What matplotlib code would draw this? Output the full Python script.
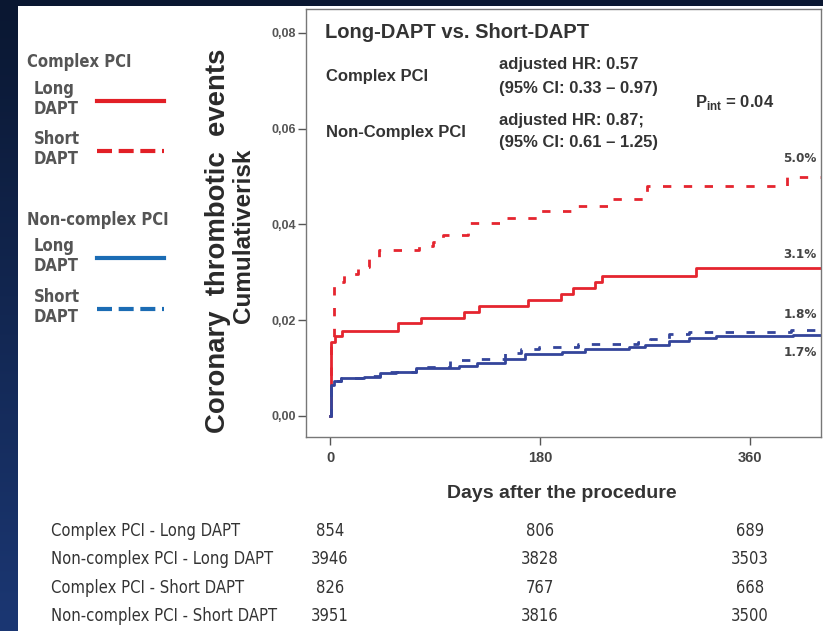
import numpy as np
import matplotlib.pyplot as plt
from matplotlib.lines import Line2D
from matplotlib.patches import Rectangle
from matplotlib import transforms, font_manager

plt.rcParams['font.family'] = ['Liberation Sans', 'DejaVu Sans']
plt.rcParams['mathtext.fontset'] = 'custom'
plt.rcParams['mathtext.bf'] = 'Liberation Sans:bold'
plt.rcParams['mathtext.rm'] = 'Liberation Sans'

# cumulative incidence curves (days, risk)
cl_days = [0, 1, 4, 10, 58, 78, 115, 128, 170, 198, 208, 227, 233, 314, 421]
cl_risk = [0, 0.0155, 0.0166, 0.0178, 0.0194, 0.0205, 0.0217, 0.0230, 0.0242,
           0.0254, 0.0268, 0.0280, 0.0293, 0.0310, 0.0310]

cs_days = [0, 1, 3, 12, 24, 33, 42, 76, 88, 97, 118, 148, 178, 212, 240, 272, 392, 421]
cs_risk = [0, 0.0150, 0.0280, 0.0296, 0.0311, 0.0332, 0.0346, 0.0354, 0.0364,
           0.0377, 0.0403, 0.0414, 0.0428, 0.0439, 0.0453, 0.0481, 0.0500, 0.0500]

nl_days = [0, 1, 3, 9, 29, 43, 57, 74, 89, 111, 126, 150, 167, 199, 219, 256,
           270, 291, 308, 331, 397, 421]
nl_risk = [0, 0.0065, 0.0072, 0.0079, 0.0081, 0.0090, 0.0092, 0.0100, 0.0101,
           0.0104, 0.0110, 0.0118, 0.0130, 0.0134, 0.0139, 0.0145, 0.0148,
           0.0157, 0.0163, 0.0166, 0.0170, 0.0170]

ns_days = [0, 1, 3, 9, 29, 43, 74, 103, 126, 150, 164, 179, 213, 264, 274, 291,
           308, 395, 421]
ns_risk = [0, 0.0065, 0.0073, 0.0080, 0.0084, 0.0092, 0.0103, 0.0116, 0.0118,
           0.0132, 0.0140, 0.0145, 0.0150, 0.0155, 0.0160, 0.0172, 0.0176,
           0.0180, 0.0180]

end_labels = ['5.0%', '3.1%', '1.8%', '1.7%']

# numbers at risk
risk_days = [0, 180, 360]
risk_rows = ['Complex PCI - Long DAPT', 'Non-complex PCI - Long DAPT',
             'Complex PCI - Short DAPT', 'Non-complex PCI - Short DAPT']
risk_counts = [[854, 806, 689],
               [3946, 3828, 3503],
               [826, 767, 668],
               [3951, 3816, 3500]]

W, H = 823, 631
RED = '#e5252f'
BLUE = '#34459b'
TXT = '#333333'

# pick a condensed face for the table / side legend if one is installed
names = {(f.name, f.stretch) for f in font_manager.fontManager.ttflist}
if any(n == 'Liberation Sans Narrow' for n, s in names):
    narrow = dict(family='Liberation Sans Narrow')
    nscale = 1.0
elif ('DejaVu Sans', 'condensed') in names or ('DejaVu Sans', 600) in names:
    narrow = dict(family='DejaVu Sans', fontstretch='condensed')
    nscale = 0.88
else:
    narrow = dict(family='Liberation Sans')
    nscale = 0.85

fig = plt.figure(figsize=(W / 100, H / 100), dpi=100)
fig.patch.set_facecolor('#0a1731')

# pixel canvas for background and side annotations
bg = fig.add_axes([0, 0, 1, 1], zorder=0)
bg.set_xlim(0, W)
bg.set_ylim(H, 0)
bg.axis('off')
grad = np.linspace(0, 1, 256).reshape(-1, 1)
bg.imshow(grad, cmap=plt.matplotlib.colors.LinearSegmentedColormap.from_list(
    'side', ['#0a1731', '#1b3773']), extent=(0, 18, H, 0), aspect='auto')
bg.add_patch(Rectangle((18, 6), W - 18, H - 6, facecolor='white', edgecolor='none'))

# main axes
ax = fig.add_axes([306 / W, 1 - 437 / H, (821 - 306) / W, (437 - 9) / H], zorder=1)
ax.set_facecolor('none')

ax.step(cs_days, cs_risk, where='post', color=RED, lw=2, dashes=(3, 4.5))
ax.step(cl_days, cl_risk, where='post', color=RED, lw=2)
ax.step(ns_days, ns_risk, where='post', color=BLUE, lw=2, dashes=(3, 4.5))
ax.step(nl_days, nl_risk, where='post', color=BLUE, lw=2)

ax.set_xlim(-20.6, 421)
ax.set_ylim(-0.0044, 0.0850)
ax.set_xticks(risk_days)
ax.set_yticks([0, 0.02, 0.04, 0.06, 0.08])
ax.set_yticklabels([f'{v:.2f}'.replace('.', ',') for v in ax.get_yticks()])
ax.tick_params(axis='y', length=6, width=1, color='#555555', pad=1,
               labelsize=9, labelcolor='#555555')
ax.tick_params(axis='x', length=6, width=1, color='#555555', pad=4,
               labelsize=10.5, labelcolor='#444444')
for lab in ax.get_xticklabels() + ax.get_yticklabels():
    lab.set_fontweight('bold')
for sp in ax.spines.values():
    sp.set_color('#777777')
    sp.set_linewidth(1)

# final percentages
end_vals = [cs_risk[-1], cl_risk[-1], ns_risk[-1], nl_risk[-1]]
offsets = [18, 13, 15, -18]
for lab, val, off in zip(end_labels, end_vals, offsets):
    ax.annotate(lab, (1, val), xycoords=('axes fraction', 'data'),
                xytext=(-3, off * 0.72), textcoords='offset points',
                ha='right', va='center', fontsize=11 * nscale, fontweight='bold',
                color='#444444', **narrow)

# annotation block inside the plot
bg.text(325, 32, 'Long-DAPT vs. Short-DAPT', fontsize=14.5, fontweight='bold',
        color=TXT, va='center', zorder=3)
bg.text(326, 77, 'Complex PCI', fontsize=12, fontweight='bold', color=TXT, va='center', zorder=3)
bg.text(326, 132, 'Non-Complex PCI', fontsize=12, fontweight='bold', color=TXT, va='center', zorder=3)
bg.text(499, 65, 'adjusted HR: 0.57', fontsize=12, fontweight='bold', color=TXT, va='center', zorder=3)
bg.text(499, 88, '(95% CI: 0.33 \u2013 0.97)', fontsize=12, fontweight='bold', color=TXT, va='center', zorder=3)
bg.text(499, 120, 'adjusted HR: 0.87;', fontsize=12, fontweight='bold', color=TXT, va='center', zorder=3)
bg.text(499, 143, '(95% CI: 0.61 \u2013 1.25)', fontsize=12, fontweight='bold', color=TXT, va='center', zorder=3)
bg.text(695, 102, r'P$_{\mathbf{int}}$ = 0.04', fontsize=12, fontweight='bold',
        color=TXT, va='center', zorder=3)

# axis titles
bg.text(218, 241, 'Coronary  thrombotic  events', rotation=90, fontsize=19.8,
        fontweight='bold', color='#2a2a2a', ha='center', va='center')
bg.text(244, 236, 'Cumulativerisk', rotation=90, fontsize=17.5,
        fontweight='bold', color='#2a2a2a', ha='center', va='center')
bg.text(562, 493, 'Days after the procedure', fontsize=14, fontweight='bold',
        color=TXT, ha='center', va='center')

# side legend
leg_col = '#555555'
bg.text(27, 62, 'Complex PCI', fontsize=13.5 * nscale, fontweight='bold', color=leg_col,
        va='center', **narrow)
bg.text(27, 220, 'Non-complex PCI', fontsize=13.5 * nscale, fontweight='bold', color=leg_col,
        va='center', **narrow)
legend_items = [('Long\nDAPT', 99, '#e21f26', '-'),
                ('Short\nDAPT', 149, '#e21f26', '--'),
                ('Long\nDAPT', 256, '#1b6cb4', '-'),
                ('Short\nDAPT', 307, '#1b6cb4', '--')]
for txt, yy, col, ls in legend_items:
    bg.text(34, yy, txt, fontsize=13.5 * nscale, fontweight='bold', color=leg_col,
            va='center', linespacing=1.1, **narrow)
    ln = Line2D([97, 164], [yy + 2, yy + 2], color=col, lw=3)
    if ls == '--':
        ln.set_dashes((3.6, 1.6))
    bg.add_line(ln)

# numbers-at-risk table
tr = transforms.blended_transform_factory(ax.transData, bg.transData)
row_y = [531, 559, 588, 616]
for name, counts, yy in zip(risk_rows, risk_counts, row_y):
    bg.text(51, yy, name, fontsize=13.5 * nscale, color=TXT, va='center', **narrow)
    for d, c in zip(risk_days, counts):
        bg.text(d, yy, str(c), fontsize=13.5 * nscale, color=TXT, va='center',
                ha='center', transform=tr, **narrow)

fig.savefig('out.png', dpi=100, facecolor=fig.get_facecolor())
